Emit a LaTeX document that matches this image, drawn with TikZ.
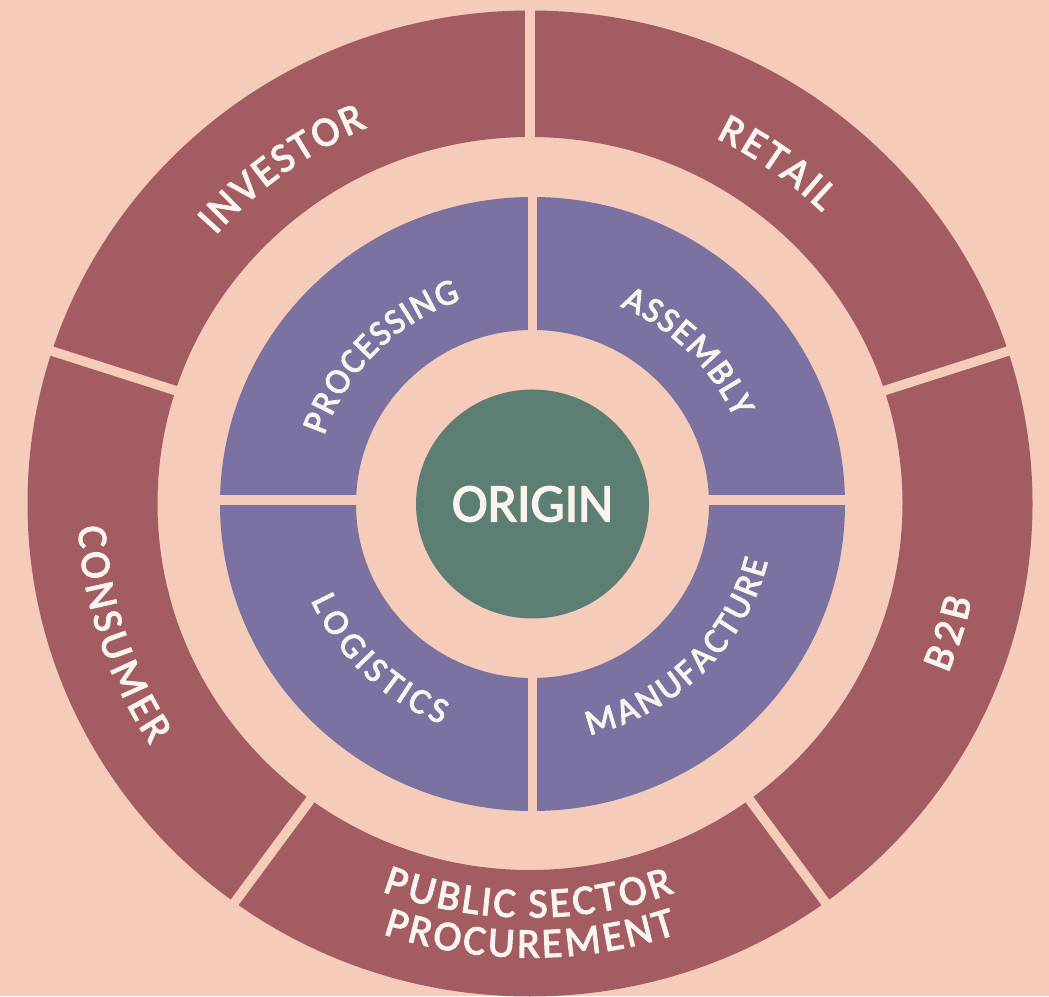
\documentclass[tikz,border=0pt]{standalone}
\usepackage{fontspec}
\usetikzlibrary{decorations.text,shapes.geometric}
\newfontfamily\labelfont{Carlito}[FakeBold=2.6]
\definecolor{bgpink}{HTML}{F5CBBA}
\definecolor{ringred}{HTML}{A35C61}
\definecolor{ringpurple}{HTML}{7B72A2}
\definecolor{coregreen}{HTML}{5D7E73}
\definecolor{labelwhite}{HTML}{FAF4EE}
\tikzset{
  ringtext/.style 2 args={decorate, decoration={text effects along path,
      text={#2}, text effects/.cd, text along path, fit text to path,
      characters={text=labelwhite, inner sep=0pt,
        font={\labelfont\fontsize{#1}{#1}\selectfont}}}},
  outertext/.style={ringtext={42}{#1}},
  innertext/.style={ringtext={36}{#1}},
  gapline/.style={draw=bgpink, line width=9.5pt},
}
\begin{document}
\begin{tikzpicture}[x=1pt,y=1pt]
  \useasboundingbox (0,0) rectangle (1049,996);
  \fill[bgpink] (0,0) rectangle (1049,996);
  \coordinate (oc) at (530,492.5);
  \coordinate (ic) at (532.5,492);

  % outer ring, five segments
  \fill[ringred, even odd rule] (oc) ellipse[x radius=502.5, y radius=493]
                                (oc) ellipse[x radius=372.5, y radius=366.5];
  \foreach \a in {18,90,162,234,306}
    \draw[gapline] ([shift={(\a:350 and 343)}]oc) -- ([shift={(\a:530 and 520)}]oc);

  % inner ring, four quadrants
  \fill[ringpurple, even odd rule] (ic) ellipse[x radius=312.5, y radius=307]
                                   (ic) ellipse[x radius=176.5, y radius=174];
  \draw[gapline, line width=9.5pt] ([yshift=-320]ic) -- ([yshift=320]ic);
  \draw[gapline, line width=9.3pt] ([xshift=-330,yshift=4]ic) -- ([xshift=330,yshift=4]ic);

  % centre
  \node[ellipse, fill=coregreen, minimum width=233, minimum height=229,
        inner sep=0pt, text=labelwhite,
        font={\labelfont\fontsize{54}{54}\selectfont}] (core) at (ic) {ORIGIN};

  % outer labels
  \path[outertext={INVESTOR}] ([shift={(139:416.7 and 408.5)}]oc)
    arc[start angle=139, end angle=113, x radius=416.7, y radius=408.5];
  \path[outertext={RETAIL}] ([shift={(63.5:416.7 and 408.5)}]oc)
    arc[start angle=63.5, end angle=45.5, x radius=416.7, y radius=408.5];
  \path[outertext={CONSUMER}] ([shift={(183:452.4 and 443.5)}]oc)
    arc[start angle=183, end angle=213, x radius=452.4, y radius=443.5];
  \path[outertext={B2B}] ([shift={(337.5:452.4 and 443.5)}]oc)
    arc[start angle=337.5, end angle=347.5, x radius=452.4, y radius=443.5];
  \path[outertext={PUBLIC SECTOR}] ([shift={(249.5:422.3 and 414)}]oc)
    arc[start angle=249.5, end angle=290, x radius=422.3, y radius=414];
  \path[outertext={PROCUREMENT}] ([shift={(251.5:463.1 and 454)}]oc)
    arc[start angle=251.5, end angle=288.5, x radius=463.1, y radius=454];

  % inner labels
  \path[innertext={PROCESSING}] ([shift={(161.5:219.7 and 215.4)}]ic)
    arc[start angle=161.5, end angle=109, x radius=219.7, y radius=215.4];
  \path[innertext={ASSEMBLY}] ([shift={(66.5:219.7 and 215.4)}]ic)
    arc[start angle=66.5, end angle=23.5, x radius=219.7, y radius=215.4];
  \path[innertext={LOGISTICS}] ([shift={(204:242.4 and 237.6)}]ic)
    arc[start angle=204, end angle=248, x radius=242.4, y radius=237.6];
  \path[innertext={MANUFACTURE}] ([shift={(283.5:242.4 and 237.6)}]ic)
    arc[start angle=283.5, end angle=346, x radius=242.4, y radius=237.6];
\end{tikzpicture}
\end{document}
